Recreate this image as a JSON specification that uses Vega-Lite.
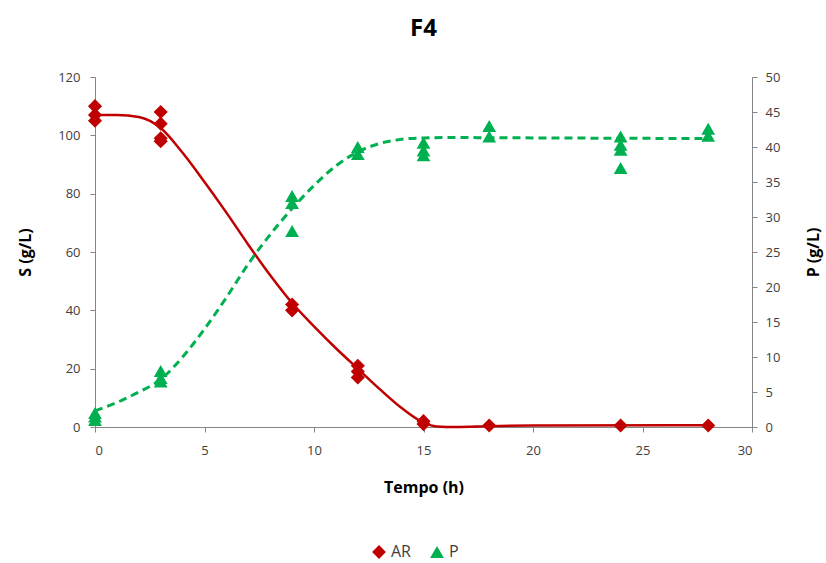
{
  "$schema": "https://vega.github.io/schema/vega-lite/v6.json",
  "width": 657,
  "height": 350,
  "autosize": "none",
  "padding": {"left": 95, "top": 77, "right": 74, "bottom": 136},
  "background": "white",
  "title": {"text": "F4", "fontSize": 24, "font": "Open Sans", "fontWeight": "bold", "color": "#000000", "offset": 30, "anchor": "middle"},
  "config": {
    "view": {"stroke": null},
    "axis": {"domainColor": "#868686", "tickColor": "#868686", "grid": false, "labelFont": "Open Sans", "labelFontSize": 13, "labelColor": "#404040", "titleFont": "Open Sans", "titleFontSize": 16, "titleFontWeight": "bold", "titleColor": "#000000", "tickSize": 5, "labelPadding": 6},
    "legend": {"orient": "none", "legendX": 276, "legendY": 467, "direction": "horizontal", "title": null, "labelFont": "Open Sans", "labelFontSize": 16, "labelColor": "#404040", "symbolSize": 190, "columnPadding": 18, "labelOffset": 4}
  },
  "datasets": {
    "ar_obs": [
      {"t": 0, "v": 110, "series": "AR"}, {"t": 0, "v": 107, "series": "AR"}, {"t": 0, "v": 105, "series": "AR"},
      {"t": 3, "v": 108, "series": "AR"}, {"t": 3, "v": 104, "series": "AR"}, {"t": 3, "v": 99, "series": "AR"}, {"t": 3, "v": 98, "series": "AR"},
      {"t": 9, "v": 42, "series": "AR"}, {"t": 9, "v": 40, "series": "AR"},
      {"t": 12, "v": 21, "series": "AR"}, {"t": 12, "v": 19, "series": "AR"}, {"t": 12, "v": 17, "series": "AR"},
      {"t": 15, "v": 2, "series": "AR"}, {"t": 15, "v": 1, "series": "AR"},
      {"t": 18, "v": 0.5, "series": "AR"}, {"t": 24, "v": 0.5, "series": "AR"}, {"t": 28, "v": 0.5, "series": "AR"}
    ],
    "ar_fit": [
      {"t": 0, "v": 107}, {"t": 1, "v": 107}, {"t": 2, "v": 106.3}, {"t": 3, "v": 102.5}, {"t": 4, "v": 94},
      {"t": 5, "v": 84}, {"t": 6, "v": 73.5}, {"t": 7, "v": 62.5}, {"t": 8, "v": 52}, {"t": 9, "v": 42.5},
      {"t": 10, "v": 34.5}, {"t": 11, "v": 27}, {"t": 12, "v": 20}, {"t": 13, "v": 13}, {"t": 14, "v": 6.5},
      {"t": 15, "v": 1.5}, {"t": 15.6, "v": 0.2}, {"t": 16.5, "v": 0}, {"t": 18, "v": 0.3}, {"t": 20, "v": 0.5}, {"t": 28, "v": 0.6}
    ],
    "p_obs": [
      {"t": 0, "v": 2, "series": "P"}, {"t": 0, "v": 1.5, "series": "P"}, {"t": 0, "v": 1, "series": "P"},
      {"t": 3, "v": 8, "series": "P"}, {"t": 3, "v": 7, "series": "P"}, {"t": 3, "v": 6.5, "series": "P"},
      {"t": 9, "v": 33, "series": "P"}, {"t": 9, "v": 32, "series": "P"}, {"t": 9, "v": 28, "series": "P"},
      {"t": 12, "v": 40, "series": "P"}, {"t": 12, "v": 39, "series": "P"},
      {"t": 15, "v": 40.6, "series": "P"}, {"t": 15, "v": 39.5, "series": "P"}, {"t": 15, "v": 38.8, "series": "P"},
      {"t": 18, "v": 43, "series": "P"}, {"t": 18, "v": 41.5, "series": "P"},
      {"t": 24, "v": 41.5, "series": "P"}, {"t": 24, "v": 40.3, "series": "P"}, {"t": 24, "v": 39.6, "series": "P"}, {"t": 24, "v": 37, "series": "P"},
      {"t": 28, "v": 42.6, "series": "P"}, {"t": 28, "v": 41.6, "series": "P"}
    ],
    "p_fit": [
      {"t": 0, "v": 2.3}, {"t": 1, "v": 3.5}, {"t": 2, "v": 5}, {"t": 3, "v": 6.8}, {"t": 4, "v": 10},
      {"t": 5, "v": 14}, {"t": 6, "v": 18.5}, {"t": 7, "v": 23.3}, {"t": 8, "v": 27.5}, {"t": 9, "v": 31.2},
      {"t": 10, "v": 34.5}, {"t": 11, "v": 37.3}, {"t": 12, "v": 39.3}, {"t": 13, "v": 40.5}, {"t": 14, "v": 41.1},
      {"t": 15, "v": 41.3}, {"t": 16, "v": 41.35}, {"t": 20, "v": 41.3}, {"t": 28, "v": 41.2}
    ]
  },
  "encoding": {
    "x": {"field": "t", "type": "quantitative", "scale": {"domain": [0, 30]}, "axis": {"title": "Tempo (h)", "values": [0, 5, 10, 15, 20, 25, 30], "labelPadding": 12, "titlePadding": 22}}
  },
  "layer": [
    {
      "encoding": {
        "y": {"field": "v", "type": "quantitative", "scale": {"domain": [0, 120]}, "axis": {"title": "S (g/L)", "orient": "left", "values": [0, 20, 40, 60, 80, 100, 120], "labelPadding": 10, "titlePadding": 24}}
      },
      "layer": [
        {"data": {"name": "ar_fit"}, "mark": {"type": "line", "color": "#C00000", "strokeWidth": 2.5, "interpolate": "monotone"}},
        {"data": {"name": "ar_obs"}, "mark": {"type": "point", "filled": true, "opacity": 1, "size": 200},
         "encoding": {
           "color": {"field": "series", "type": "nominal", "scale": {"domain": ["AR", "P"], "range": ["#C00000", "#00B050"]}},
           "shape": {"field": "series", "type": "nominal", "scale": {"domain": ["AR", "P"], "range": ["diamond", "triangle-up"]}}
         }}
      ]
    },
    {
      "encoding": {
        "y": {"field": "v", "type": "quantitative", "scale": {"domain": [0, 50]}, "axis": {"title": "P (g/L)", "orient": "right", "values": [0, 5, 10, 15, 20, 25, 30, 35, 40, 45, 50], "labelPadding": 8, "titlePadding": 26, "titleAngle": 270, "titleBaseline": "top"}}
      },
      "layer": [
        {"data": {"name": "p_fit"}, "mark": {"type": "line", "color": "#00B050", "strokeWidth": 3, "strokeDash": [8, 5], "interpolate": "monotone"}},
        {"data": {"name": "p_obs"}, "mark": {"type": "point", "filled": true, "opacity": 1, "size": 190},
         "encoding": {
           "color": {"field": "series", "type": "nominal", "scale": {"domain": ["AR", "P"], "range": ["#C00000", "#00B050"]}},
           "shape": {"field": "series", "type": "nominal", "scale": {"domain": ["AR", "P"], "range": ["diamond", "triangle-up"]}}
         }}
      ]
    }
  ],
  "resolve": {"scale": {"y": "independent"}}
}
